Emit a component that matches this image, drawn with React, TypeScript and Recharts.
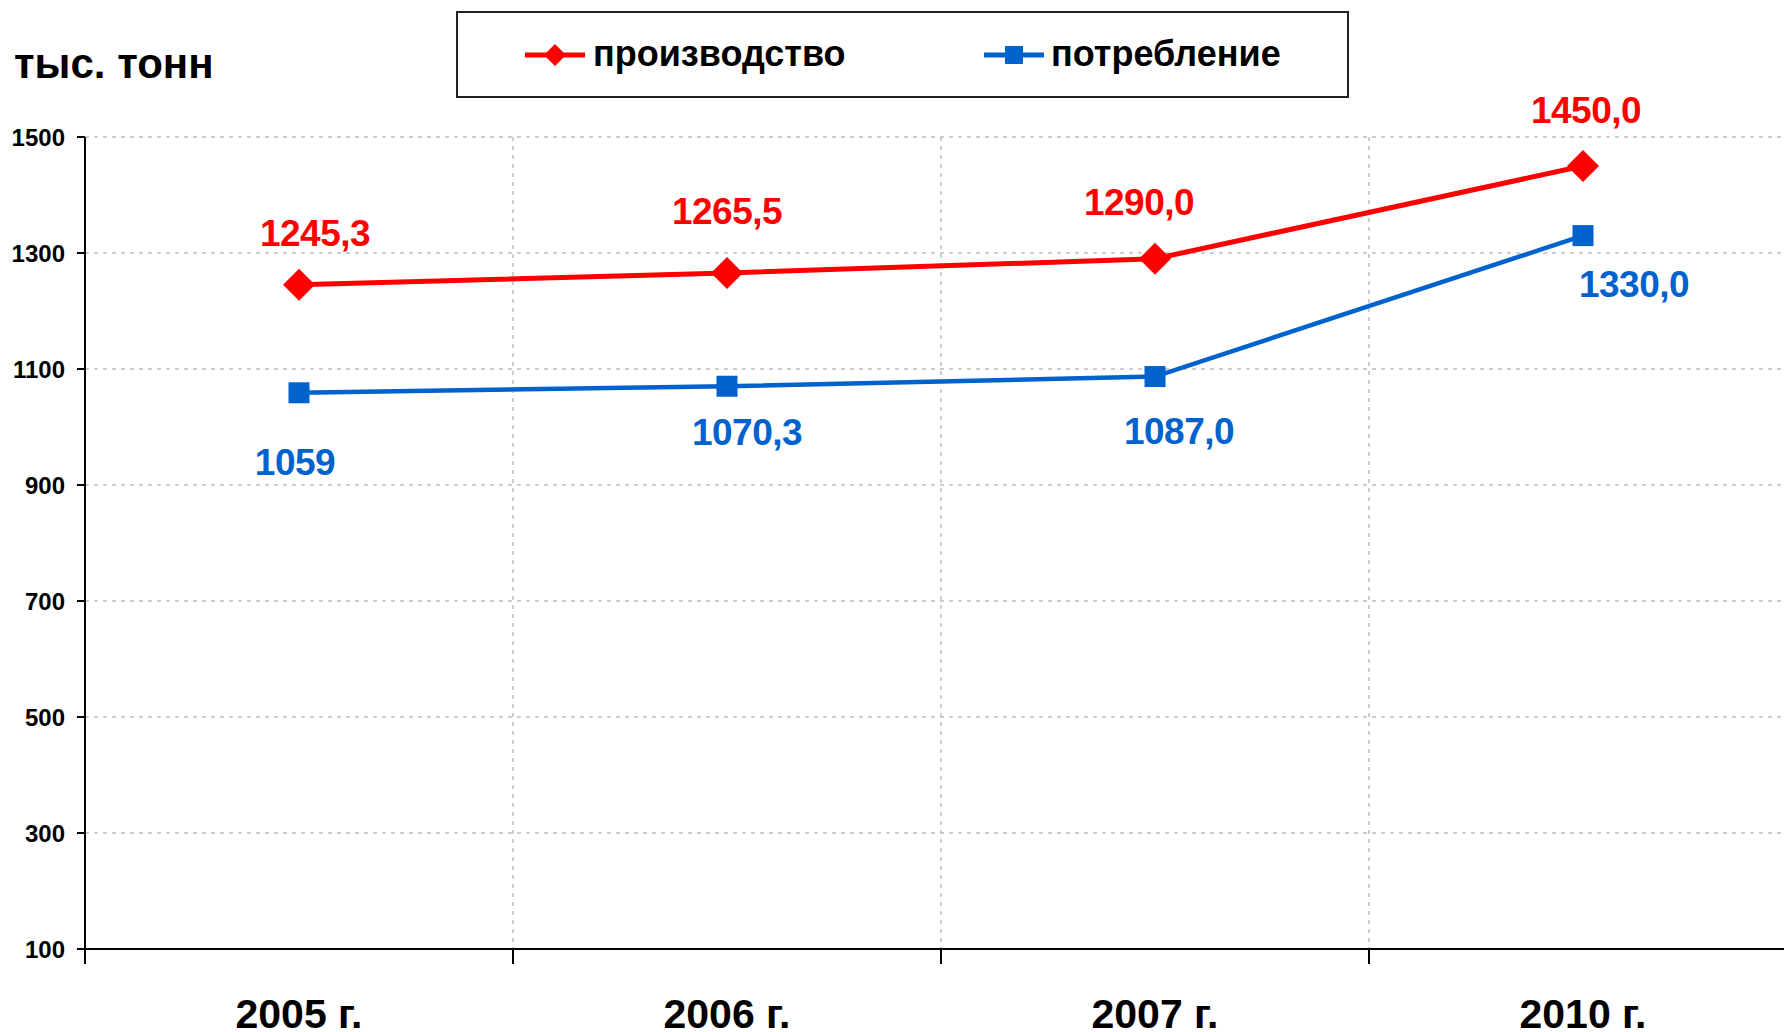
import React from "react";
import {
    LineChart,
    Line,
    XAxis,
    YAxis,
    CartesianGrid,
    LabelList,
    Label,
} from "recharts";

// categories and values
const YEARS = ["2005 г.", "2006 г.", "2007 г.", "2010 г."];
const PRODUCTION = [1245.3, 1265.5, 1290.0, 1450.0];
const CONSUMPTION = [1059, 1070.3, 1087.0, 1330.0];
const PRODUCTION_LABELS = ["1245,3", "1265,5", "1290,0", "1450,0"];
const CONSUMPTION_LABELS = ["1059", "1070,3", "1087,0", "1330,0"];
const Y_TICKS = [100, 300, 500, 700, 900, 1100, 1300, 1500];

const RED = "#FF0000";
const BLUE = "#0062CC";
const FONT = '"Liberation Sans", Arial, Helvetica, sans-serif';

// where Excel put each data label, relative to its point (dx, dy of baseline)
const PROD_LABEL_OFFSETS = [[16, -39], [0, -49], [-16, -44], [3, -43]];
const CONS_LABEL_OFFSETS = [[-4, 82], [20, 59], [24, 67], [51, 61]];

const CHART_W = 1800;
const CHART_H = 1032;
const MARGIN = { top: 137, right: 3, bottom: 0, left: 0 };
const Y_AXIS_W = 85;
const X_AXIS_H = 83;
const PLOT_W = CHART_W - MARGIN.left - MARGIN.right - Y_AXIS_W;
const BAND = PLOT_W / YEARS.length;

const chartData = YEARS.map((year, i) => ({
    year,
    production: PRODUCTION[i],
    consumption: CONSUMPTION[i],
}));

const Diamond = ({ cx, cy, r, color }: any) => {
    if (cx == null || cy == null) return null;
    return (
        <path
            d={`M${cx},${cy - r} L${cx + r},${cy} L${cx},${cy + r} L${cx - r},${cy} Z`}
            fill={color}
        />
    );
};

const Square = ({ cx, cy, s, color }: any) => {
    if (cx == null || cy == null) return null;
    return <rect x={cx - s / 2} y={cy - s / 2} width={s} height={s} fill={color} />;
};

const makeLabel = (texts: string[], offsets: number[][], color: string) => (props: any) => {
    const { x, y, index } = props;
    const [dx, dy] = offsets[index] || [0, 0];
    return (
        <text
            x={x + dx}
            y={y + dy}
            textAnchor="middle"
            fill={color}
            fontFamily={FONT}
            fontWeight="bold"
            fontSize={37}
            letterSpacing={-0.5}
        >
            {texts[index]}
        </text>
    );
};

const YearTick = (props: any) => {
    const { x, y, payload, index } = props;
    const half = BAND / 2;
    return (
        <g>
            <line x1={x - half} x2={x - half} y1={y} y2={y + 15} stroke="#000" strokeWidth={2} />
            {index === YEARS.length - 1 && (
                <line x1={x + half} x2={x + half} y1={y} y2={y + 15} stroke="#000" strokeWidth={2} />
            )}
            <text
                x={x}
                y={y + 79}
                textAnchor="middle"
                fill="#000"
                fontFamily={FONT}
                fontWeight="bold"
                fontSize={41}
            >
                {payload.value}
            </text>
        </g>
    );
};

const LegendBox = () => {
    const items = [
        { name: "производство", color: RED, shape: "diamond", iconLeft: 66, textLeft: 135 },
        { name: "потребление", color: BLUE, shape: "square", iconLeft: 525, textLeft: 593 },
    ];
    return (
        <div
            style={{
                position: "absolute",
                left: 456,
                top: 11,
                width: 889,
                height: 83,
                border: "2px solid #222",
                background: "#fff",
            }}
        >
            {items.map((it) => (
                <React.Fragment key={it.name}>
                    <svg
                        width={62}
                        height={26}
                        style={{ position: "absolute", left: it.iconLeft, top: 29 }}
                    >
                        <line x1={1} x2={61} y1={13} y2={13} stroke={it.color} strokeWidth={5} />
                        {it.shape === "diamond" ? (
                            <Diamond cx={31} cy={13} r={11} color={it.color} />
                        ) : (
                            <Square cx={31} cy={13} s={18} color={it.color} />
                        )}
                    </svg>
                    <span
                        style={{
                            position: "absolute",
                            left: it.textLeft,
                            top: 21,
                            fontFamily: FONT,
                            fontWeight: "bold",
                            fontSize: 36,
                            lineHeight: "40px",
                            color: "#000",
                            whiteSpace: "nowrap",
                        }}
                    >
                        {it.name}
                    </span>
                </React.Fragment>
            ))}
        </div>
    );
};

export default function App() {
    return (
        <div
            style={{
                position: "fixed",
                left: 0,
                top: 0,
                width: 1784,
                height: 1032,
                overflow: "hidden",
                background: "#fff",
            }}
        >
            <LineChart width={CHART_W} height={CHART_H} data={chartData} margin={MARGIN}>
                <CartesianGrid
                    stroke="#BDBDBD"
                    strokeWidth={1.5}
                    strokeDasharray="4 5"
                    verticalCoordinatesGenerator={(args: any) => {
                        const left = args?.offset?.left ?? MARGIN.left + Y_AXIS_W;
                        const width = args?.offset?.width ?? PLOT_W;
                        return YEARS.map((_, i) => left + (i * width) / YEARS.length).slice(1);
                    }}
                />
                <XAxis
                    dataKey="year"
                    scale="band"
                    height={X_AXIS_H}
                    axisLine={{ stroke: "#000", strokeWidth: 2 }}
                    tickLine={false}
                    tickSize={0}
                    tickMargin={0}
                    tick={<YearTick />}
                    interval={0}
                />
                <YAxis
                    width={Y_AXIS_W}
                    domain={[100, 1500]}
                    ticks={Y_TICKS}
                    interval={0}
                    axisLine={{ stroke: "#000", strokeWidth: 2 }}
                    tickLine={{ stroke: "#000", strokeWidth: 2 }}
                    tickSize={8}
                    tickMargin={12}
                    tick={{ fill: "#000", fontFamily: FONT, fontWeight: "bold", fontSize: 24 }}
                >
                    <Label
                        content={() => (
                            <text
                                x={14}
                                y={78}
                                fill="#000"
                                fontFamily={FONT}
                                fontWeight="bold"
                                fontSize={42}
                            >
                                тыс. тонн
                            </text>
                        )}
                    />
                </YAxis>
                <Line
                    type="linear"
                    dataKey="production"
                    name="производство"
                    stroke={RED}
                    strokeWidth={5}
                    dot={(p: any) => <Diamond key={`pd${p.index}`} cx={p.cx} cy={p.cy} r={16} color={RED} />}
                    activeDot={false}
                    isAnimationActive={false}
                >
                    <LabelList
                        dataKey="production"
                        content={makeLabel(PRODUCTION_LABELS, PROD_LABEL_OFFSETS, RED)}
                    />
                </Line>
                <Line
                    type="linear"
                    dataKey="consumption"
                    name="потребление"
                    stroke={BLUE}
                    strokeWidth={4.5}
                    dot={(p: any) => <Square key={`cd${p.index}`} cx={p.cx} cy={p.cy} s={21} color={BLUE} />}
                    activeDot={false}
                    isAnimationActive={false}
                >
                    <LabelList
                        dataKey="consumption"
                        content={makeLabel(CONSUMPTION_LABELS, CONS_LABEL_OFFSETS, BLUE)}
                    />
                </Line>
            </LineChart>
            <LegendBox />
        </div>
    );
}
